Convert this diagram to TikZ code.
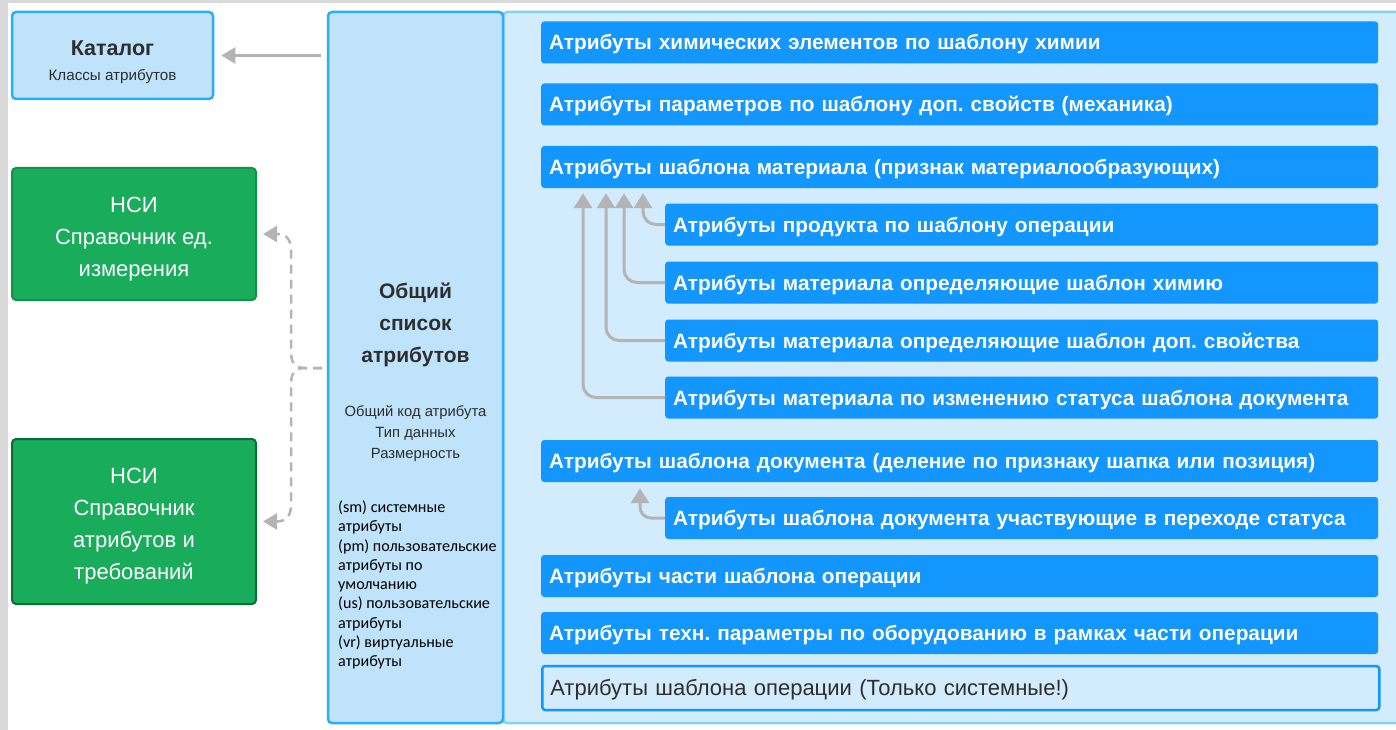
\documentclass[tikz,border=0pt]{standalone}
\usepackage{fontspec}
\setmainfont{Liberation Sans}
\newfontfamily\notefont{Carlito}
\usetikzlibrary{positioning,arrows.meta}
\definecolor{framegray}{RGB}{217,217,217}
\definecolor{skyedge}{RGB}{41,174,247}
\definecolor{paleedge}{RGB}{134,207,248}
\definecolor{skyfill}{RGB}{190,227,251}
\definecolor{panelfill}{RGB}{210,235,253}
\definecolor{barblue}{RGB}{19,150,253}
\definecolor{nsigreen}{RGB}{25,173,91}
\definecolor{nsiedge}{RGB}{19,146,75}
\definecolor{nsidark}{RGB}{12,107,55}
\definecolor{linkgray}{RGB}{180,180,180}
\definecolor{inktext}{RGB}{46,46,46}
\frenchspacing

\tikzset{
  skybox/.style={draw=skyedge,fill=skyfill,line width=2.5pt,rounded corners=4pt},
  nsibox/.style={draw=nsiedge,fill=nsigreen,line width=2pt,rounded corners=4pt,
    text=white,align=center,minimum width=244pt,font=\fontsize{22}{32}\selectfont},
  attrbar/.style={fill=barblue,rounded corners=3pt,text=white,anchor=west,
    inner xsep=8pt,inner ysep=0pt,minimum height=42pt,align=left,
    text height=19pt,text depth=4pt,
    font=\fontsize{20.8}{24}\selectfont\bfseries},
  widebar/.style={attrbar,text width=821pt},
  subbar/.style={attrbar,text width=697pt},
  subarrow/.style={draw=linkgray,line width=3pt,rounded corners=13pt,
    -{Triangle[width=18pt,length=15pt]},shorten >=5pt},
  linkarrow/.style={draw=linkgray,line width=2.5pt,
    -{Triangle[width=16pt,length=14pt]}},
  nsilink/.style={linkarrow,dash pattern=on 9pt off 6pt,shorten >=6pt}
}

\begin{document}
\begin{tikzpicture}[x=1pt,y=-1pt]
  \useasboundingbox (0,0) rectangle (1396,730);
  \fill[framegray] (0,0) rectangle (1396,3);
  \fill[framegray] (0,0) rectangle (8,730);

  % panels
  \fill[panelfill] (503,12) rectangle (1400,723);
  \draw[paleedge,line width=2.5pt,rounded corners=4pt] (1400,723) -- (503,723) -- (503,12) -- (1400,12);
  \node[skybox,minimum width=175pt,minimum height=711pt] (common) at (415.5,367.5) {};
  \node[text=inktext,align=center,font=\fontsize{21}{32}\selectfont\bfseries]
    (commontitle) at (415.5,325) {Общий\\список\\атрибутов};
  \node[text=inktext,align=center,font=\fontsize{14.8}{21}\selectfont]
    (commonkeys) at (415.5,434) {Общий код атрибута\\Тип данных\\Размерность};
  \node[text=black,align=left,anchor=west,inner sep=0pt,font=\notefont\fontsize{16.1}{19.25}\selectfont]
    (commontypes) at (338,585) {(sm) системные\\атрибуты\\(pm) пользовательские\\атрибуты по\\умолчанию\\(us) пользовательские\\атрибуты\\(vr) виртуальные\\атрибуты};

  % left side
  \node[skybox,minimum width=201pt,minimum height=87pt,align=center,text=inktext,
    font=\fontsize{15.2}{25}\selectfont]
    (catalog) at (112.5,55.5) {\rule{0pt}{29pt}{\fontsize{21.5}{25}\selectfont\bfseries Каталог}\\Классы атрибутов};
  \node[nsibox,minimum height=132pt] (units) at (134,234)
    {\rule{0pt}{26pt}НСИ\\Справочник ед.\\измерения};
  \node[nsibox,draw=nsidark,minimum height=165pt] (reqs) at (134,521.5)
    {\rule{0pt}{25pt}НСИ\\Справочник\\атрибутов и\\требований};

  \draw[linkarrow,shorten <=6pt,shorten >=7pt] (common.west |- catalog) -- (catalog.east);
  \coordinate (fork) at (322,368);
  \draw[nsilink] (fork) -- (305,368) .. controls (294,368) and (291,362) .. (291,351)
    -- (291,250) .. controls (291,240) and (287,234) .. (units.east);
  \draw[nsilink] (fork) -- (305,368) .. controls (294,368) and (291,374) .. (291,385)
    -- (291,505) .. controls (291,515) and (287,521.5) .. (reqs.east);

  % attribute bars
  \node[widebar] (chem)  at (541,42.5)  {Атрибуты химических элементов по шаблону химии};
  \node[widebar] (mech)  at (541,104.5) {Атрибуты параметров по шаблону доп. свойств (механика)};
  \node[widebar] (mat)   at (541,167)   {Атрибуты шаблона материала (признак материалообразующих)};
  \node[subbar] (prod)    at (665,224.5) {Атрибуты продукта по шаблону операции};
  \node[subbar] (matchem) at (665,282.5) {Атрибуты материала определяющие шаблон химию};
  \node[subbar] (matprop) at (665,340.5) {Атрибуты материала определяющие шаблон доп. свойства};
  \node[subbar] (matstat) at (665,397.5) {Атрибуты материала по изменению статуса шаблона документа};
  \node[widebar] (doc)   at (541,461)   {Атрибуты шаблона документа (деление по признаку шапка или позиция)};
  \node[subbar] (docstat) at (665,518)   {Атрибуты шаблона документа участвующие в переходе статуса};
  \node[widebar] (oppart) at (541,576)  {Атрибуты части шаблона операции};
  \node[widebar] (optech) at (541,633)  {Атрибуты техн. параметры по оборудованию в рамках части операции};
  \node[widebar,fill=panelfill,draw=barblue,line width=2.5pt,text=inktext,
    font=\fontsize{22}{24}\selectfont,minimum height=44pt] (opsys) at (541,688)
    {Атрибуты шаблона операции (Только системные!)};

  \draw[subarrow] (prod.west)    -| ([xshift=102pt]mat.south west);
  \draw[subarrow] (matchem.west) -| ([xshift=83pt]mat.south west);
  \draw[subarrow] (matprop.west) -| ([xshift=65pt]mat.south west);
  \draw[subarrow] (matstat.west) -| ([xshift=42pt]mat.south west);
  \draw[subarrow,rounded corners=11pt,shorten >=6pt] (docstat.west) -| ([xshift=99pt]doc.south west);
\end{tikzpicture}
\end{document}
